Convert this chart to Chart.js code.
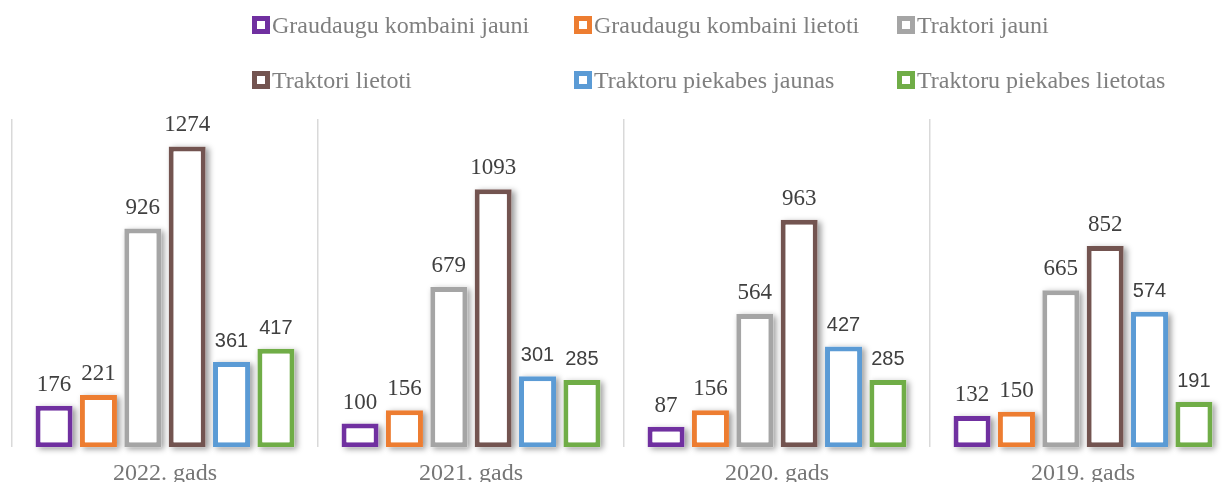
<!DOCTYPE html>
<html>
<head>
<meta charset="utf-8">
<script src="https://cdn.jsdelivr.net/npm/chart.js@4"></script>
<style>
  html, body { margin: 0; padding: 0; background: #fff; overflow: hidden; }
  #wrap { position: relative; width: 1240px; height: 500px; }
  #legend { position: absolute; left: 0; top: 0; width: 1230px; height: 110px;
    font-family: 'Liberation Serif', serif; font-size: 24px; color: #7f7f7f; }
  .item { position: absolute; display: flex; align-items: center; line-height: 28px; white-space: nowrap; }
  .box { width: 18px; height: 18px; box-sizing: border-box; border: 5px solid; background: #fff; margin-right: 2px; }
</style>
</head>
<body>
<div id="wrap">
  <canvas id="chart" width="1240" height="500"></canvas>
  <div id="legend"></div>
</div>
<script>
const categories = ['2022. gads', '2021. gads', '2020. gads', '2019. gads'];
const seriesNames = ['Graudaugu kombaini jauni', 'Graudaugu kombaini lietoti', 'Traktori jauni',
  'Traktori lietoti', 'Traktoru piekabes jaunas', 'Traktoru piekabes lietotas'];
const kombainiJauni = [176, 100, 87, 132];
const kombainiLietoti = [221, 156, 156, 150];
const traktoriJauni = [926, 679, 564, 665];
const traktoriLietoti = [1274, 1093, 963, 852];
const piekabesJaunas = [361, 301, 427, 574];
const piekabesLietotas = [417, 285, 285, 191];
const colors = ['#7030a0', '#ed7d31', '#a5a5a5', '#735450', '#5b9bd5', '#70ad47'];

const seriesData = [kombainiJauni, kombainiLietoti, traktoriJauni, traktoriLietoti, piekabesJaunas, piekabesLietotas];

// legend in 3 aligned columns
const legendEl = document.getElementById('legend');
const colX = [252, 574, 897];
const rowY = [11, 66];
seriesNames.forEach((name, i) => {
  const it = document.createElement('div');
  it.className = 'item';
  it.style.left = colX[i % 3] + 'px';
  it.style.top = rowY[Math.floor(i / 3)] + 'px';
  const b = document.createElement('span');
  b.className = 'box';
  b.style.borderColor = colors[i];
  it.appendChild(b);
  it.appendChild(document.createTextNode(name));
  legendEl.appendChild(it);
});

const barShadow = {
  id: 'barShadow',
  beforeDatasetsDraw(chart) {
    const ctx = chart.ctx;
    ctx.save();
    ctx.shadowColor = 'rgba(0,0,0,0.4)';
    ctx.shadowBlur = 6;
    ctx.shadowOffsetX = 3;
    ctx.shadowOffsetY = 2;
    ctx.fillStyle = '#fff';
    chart.data.datasets.forEach((ds, i) => {
      chart.getDatasetMeta(i).data.forEach(bar => {
        ctx.fillRect(bar.x - bar.width / 2, bar.y, bar.width, bar.base - bar.y);
      });
    });
    ctx.restore();
  }
};

const serifFont = Chart.helpers.toFont({ family: 'Liberation Serif', size: 23 }).string;
const sansFont = Chart.helpers.toFont({ family: 'Liberation Sans', size: 20 }).string;

const valueLabels = {
  id: 'valueLabels',
  afterDatasetsDraw(chart) {
    const ctx = chart.ctx;
    ctx.save();
    ctx.textAlign = 'center';
    ctx.textBaseline = 'alphabetic';
    ctx.fillStyle = '#404040';
    chart.data.datasets.forEach((ds, i) => {
      ctx.font = i < 4 ? serifFont : sansFont;
      chart.getDatasetMeta(i).data.forEach((bar, j) => {
        ctx.fillText(ds.data[j], bar.x, bar.y - 15);
      });
    });
    ctx.restore();
  }
};

function draw() {
  new Chart(document.getElementById('chart'), {
    type: 'bar',
    data: {
      labels: categories,
      datasets: seriesNames.map((name, i) => ({
        label: name,
        data: seriesData[i],
        backgroundColor: '#ffffff',
        borderColor: colors[i],
        borderWidth: 5,
        borderSkipped: false,
        barPercentage: 0.835,
        categoryPercentage: 0.87
      }))
    },
    options: {
      responsive: false,
      animation: false,
      layout: { padding: { top: 119, left: 12, right: 4, bottom: 0 } },
      plugins: { legend: { display: false }, tooltip: { enabled: false } },
      scales: {
        x: {
          grid: { offset: true, drawTicks: false, color: '#d9d9d9', lineWidth: 1.5 },
          border: { display: false },
          ticks: {
            padding: 12,
            color: '#767676',
            font: { family: 'Liberation Serif', size: 24 }
          }
        },
        y: {
          display: false,
          min: 0,
          max: 1390
        }
      }
    },
    plugins: [barShadow, valueLabels]
  });
}

Promise.all([
  document.fonts.load(serifFont),
  document.fonts.load(sansFont)
]).then(draw, draw);
</script>
</body>
</html>
